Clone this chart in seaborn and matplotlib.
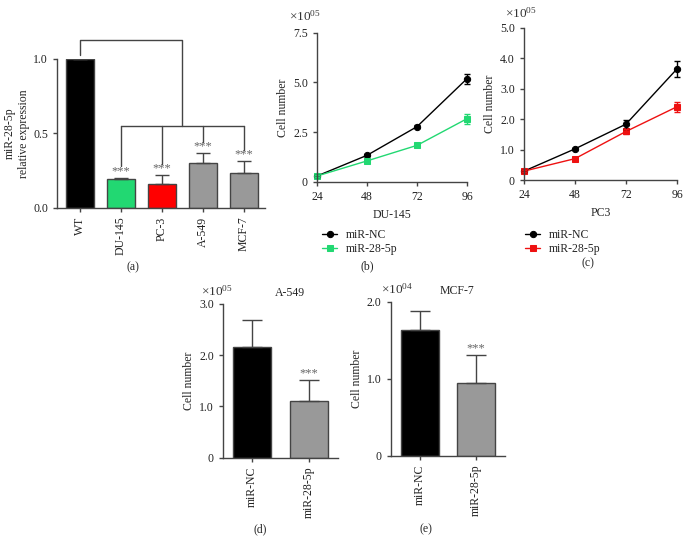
import numpy as np
import seaborn as sns
import matplotlib.pyplot as plt

# panel (a): relative expression
cell_lines = ["WT", "DU-145", "PC-3", "A-549", "MCF-7"]
rel_expr = [1.0, 0.19, 0.157, 0.298, 0.235]
rel_err = [0.0, 0.012, 0.063, 0.067, 0.078]
bar_colors = ["#000000", "#22d872", "#ff0000", "#999999", "#999999"]

# panels (b), (c): growth curves
hours = [24, 48, 72, 96]
du145_nc = [0.30, 1.34, 2.78, 5.19]
du145_nc_err = [0.04, 0.05, 0.06, 0.25]
du145_mir = [0.30, 1.06, 1.84, 3.18]
du145_mir_err = [0.04, 0.05, 0.06, 0.26]
pc3_nc = [0.30, 1.03, 1.84, 3.65]
pc3_nc_err = [0.03, 0.04, 0.15, 0.25]
pc3_mir = [0.30, 0.71, 1.60, 2.41]
pc3_mir_err = [0.03, 0.04, 0.08, 0.16]

# panels (d), (e): cell number
groups = ["miR-NC", "miR-28-5p"]
a549_vals = [2.16, 1.10]
a549_err = [0.53, 0.41]
mcf7_vals = [1.635, 0.948]
mcf7_err = [0.245, 0.36]

sns.set_style("ticks")
plt.rcParams["font.family"] = ["Liberation Serif", "DejaVu Serif"]
plt.rcParams["mathtext.fontset"] = "custom"
plt.rcParams["mathtext.rm"] = "Liberation Serif"
plt.rcParams["mathtext.it"] = "Liberation Serif:italic"
plt.rcParams["font.size"] = 8
plt.rcParams["axes.edgecolor"] = "#444444"
plt.rcParams["axes.linewidth"] = 1.0
plt.rcParams["xtick.color"] = "#444444"
plt.rcParams["ytick.color"] = "#444444"
plt.rcParams["xtick.labelcolor"] = "#222222"
plt.rcParams["ytick.labelcolor"] = "#222222"
plt.rcParams["xtick.major.size"] = 3
plt.rcParams["ytick.major.size"] = 3

W, H = 689, 551
fig = plt.figure(figsize=(W / 100, H / 100), dpi=100)


def px_axes(left, top, right, bottom):
    return fig.add_axes([left / W, 1 - bottom / H, (right - left) / W, (bottom - top) / H])


def ftext(x, y, s, **kw):
    fig.text(x / W, 1 - y / H, s, ha="center", va="center", **kw)


def clean(ax):
    sns.despine(ax=ax)
    ax.tick_params(labelsize=8.5, width=1)
    ax.set_xlabel("")


# ---- (a)
ax = px_axes(57, 58.7, 265, 207.7)
sns.barplot(x=cell_lines, y=rel_expr, hue=cell_lines, palette=bar_colors, legend=False,
            width=0.68, saturation=1, edgecolor="#444444", linewidth=1, ax=ax)
ax.errorbar(range(5), rel_expr, yerr=[np.zeros(5), rel_err], fmt="none",
            ecolor="#444444", elinewidth=1, capsize=5)
ax.set_xlim(-0.55, 4.52)
ax.set_ylim(0, 1.0)
ax.set_yticks([0, 0.5, 1.0])
ax.set_yticklabels(["0.0", "0.5", "1.0"])
ax.tick_params(axis="x", rotation=90)
ax.set_ylabel("miR-28-5p\nrelative expression", fontsize=8.5)
clean(ax)
ax.yaxis.set_label_coords(-0.13, 0.5)
lc = "#444444"
ax.plot([0, 0, 2.5, 2.5], [1.025, 1.125, 1.125, 0.548], color=lc, lw=1, clip_on=False)
ax.plot([1, 4], [0.548, 0.548], color=lc, lw=1, clip_on=False)
for i in range(1, 5):
    top = rel_expr[i] + rel_err[i]
    ax.plot([i, i], [0.548, top + 0.075], color=lc, lw=1)
    ax.text(i, top + 0.005, "***", ha="center", va="bottom", fontsize=9, color="#666666")

# ---- growth curves
def growth(ax, nc, nc_err, mir, mir_err, col, mk, ymax, yticks, ylabels, xlabel):
    sns.lineplot(x=hours, y=nc, color="black", marker="o", markersize=4.5,
                 markeredgecolor="black", lw=1, label="miR-NC", ax=ax, clip_on=False)
    sns.lineplot(x=hours, y=mir, color=col, marker=mk, markersize=4.5,
                 markeredgecolor=col, lw=1, label="miR-28-5p", ax=ax, clip_on=False)
    ax.errorbar(hours, nc, yerr=nc_err, fmt="none", ecolor="black", elinewidth=1, capsize=2.5,
                clip_on=False)
    ax.errorbar(hours, mir, yerr=mir_err, fmt="none", ecolor=col, elinewidth=1, capsize=2.5,
                clip_on=False)
    ax.set_xlim(24, 96)
    ax.set_xticks(hours)
    ax.set_ylim(0, ymax)
    ax.set_yticks(yticks)
    ax.set_yticklabels(ylabels)
    ax.set_ylabel("Cell number", fontsize=8.5, labelpad=3)
    clean(ax)
    ax.set_xlabel(xlabel, fontsize=8.5, labelpad=4)
    ax.get_legend().remove()


ax_b = px_axes(317, 32.7, 467, 182)
growth(ax_b, du145_nc, du145_nc_err, du145_mir, du145_mir_err, "#22d872", "s", 7.5,
       [0, 2.5, 5.0, 7.5], ["0", "2.5", "5.0", "7.5"], "DU-145")
ax_c = px_axes(524, 27.7, 677, 180.3)
growth(ax_c, pc3_nc, pc3_nc_err, pc3_mir, pc3_mir_err, "#ee1111", "s", 5.0,
       [0, 1, 2, 3, 4, 5], ["0", "1.0", "2.0", "3.0", "4.0", "5.0"], "PC3")

for a, x0 in [(ax_b, 316), (ax_c, 519)]:
    h, l = a.get_legend_handles_labels()
    a.legend(h, l, loc="upper left", bbox_to_anchor=(x0 / W, 1 - 223 / H),
             bbox_transform=fig.transFigure, frameon=False, fontsize=8.5,
             handlelength=1.3, handletextpad=0.7, labelspacing=0.2, borderpad=0)

ftext(305, 16, r"$\times10^{05}$", fontsize=9.5, color="#333333")
ftext(521, 13, r"$\times10^{05}$", fontsize=9.5, color="#333333")


# ---- (d), (e)
def cellbar(ax, vals, errs, ymax, yticks, ylabels, title):
    sns.barplot(x=groups, y=vals, hue=groups, palette=["#000000", "#999999"], legend=False,
                width=0.67, saturation=1, edgecolor="#444444", linewidth=1, ax=ax)
    ax.errorbar([0, 1], vals, yerr=[[0, 0], errs], fmt="none", ecolor="#444444",
                elinewidth=1, capsize=7.5)
    ax.set_xlim(-0.51, 1.51)
    ax.set_ylim(0, ymax)
    ax.set_yticks(yticks)
    ax.set_yticklabels(ylabels)
    ax.tick_params(axis="x", rotation=90)
    ax.set_ylabel("Cell number", fontsize=8.5, labelpad=3)
    clean(ax)
    ax.text(1, vals[1] + errs[1] + ymax * 0.005, "***", ha="center", va="bottom",
            fontsize=9, color="#666666")
    ax.text(0.58, 1.03, title, transform=ax.transAxes, ha="center", va="bottom", fontsize=8.5)


ax_d = px_axes(223, 304, 338, 457.7)
cellbar(ax_d, a549_vals, a549_err, 3.0, [0, 1, 2, 3], ["0", "1.0", "2.0", "3.0"], "A-549")
ax_e = px_axes(390.7, 302, 505, 455.7)
cellbar(ax_e, mcf7_vals, mcf7_err, 2.0, [0, 1, 2], ["0", "1.0", "2.0"], "MCF-7")
ftext(217, 291, r"$\times10^{05}$", fontsize=9.5, color="#333333")
ftext(397, 289, r"$\times10^{04}$", fontsize=9.5, color="#333333")

# panel labels
for x, y, s in [(133, 267, "(a)"), (367, 266, "(b)"), (588, 263, "(c)"),
                (260, 529, "(d)"), (426, 529, "(e)")]:
    ftext(x, y, s, fontsize=8.5)

fig.savefig("out.png", dpi=100)
